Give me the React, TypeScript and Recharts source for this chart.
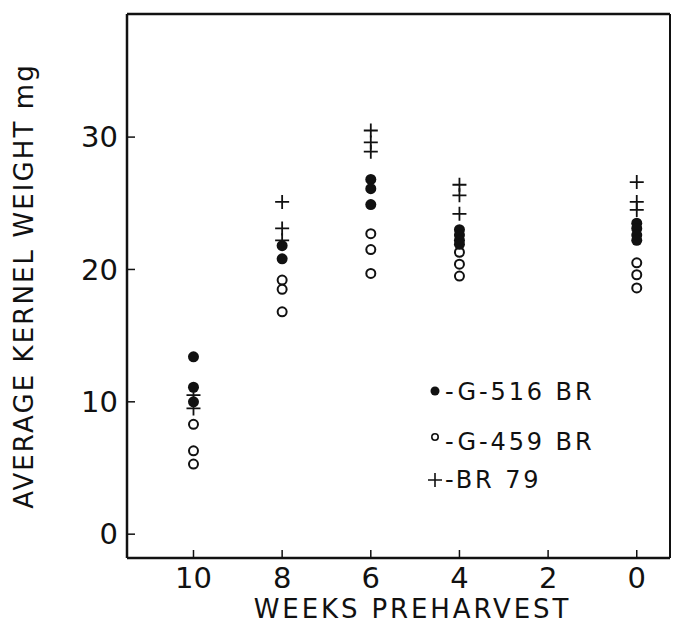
import { ScatterChart, Scatter, XAxis, YAxis, ReferenceLine } from 'recharts';

// weeks preharvest at which samples were taken
const WEEKS = [10, 8, 6, 4, 0];

// average kernel weight (mg), one list per week
const G516_BR = [
  [13.4, 11.1, 10.0],
  [21.8, 20.8],
  [26.8, 26.1, 24.9],
  [23.0, 22.6, 22.2, 21.9],
  [23.5, 23.1, 22.6, 22.2],
];
const G459_BR = [
  [8.3, 6.3, 5.3],
  [19.2, 18.5, 16.8],
  [22.7, 21.5, 19.7],
  [21.3, 20.4, 19.5],
  [20.5, 19.6, 18.6],
];
const BR79 = [
  [10.5, 9.5],
  [25.1, 23.1, 22.2],
  [30.5, 29.6, 28.9],
  [26.4, 25.6, 24.2],
  [26.6, 25.1, 24.5],
];

const X_TICKS = [10, 8, 6, 4, 2, 0];
const Y_TICKS = [0, 10, 20, 30];
const X_DOMAIN = [-0.75, 11.5];
const Y_DOMAIN = [-1.8, 39.3];

const FONT = '"DejaVu Sans", sans-serif';
const INK = '#111';

const toPoints = (series: number[][]) =>
  series.flatMap((vals, i) => vals.map((v) => ({ w: WEEKS[i], v })));

const FilledDot = (p: any) => <circle cx={p.cx} cy={p.cy} r={5.5} fill={INK} />;
const OpenDot = (p: any) => (
  <circle cx={p.cx} cy={p.cy} r={4.5} fill="#fff" stroke={INK} strokeWidth={2} />
);
const Plus = (p: any) => (
  <path
    d={`M${p.cx - 7},${p.cy}H${p.cx + 7}M${p.cx},${p.cy - 7}V${p.cy + 7}`}
    stroke={INK}
    strokeWidth={1.8}
    fill="none"
  />
);

// rows of the key: label and the vertical centre of each row
const LEGEND_ROWS = [
  { key: 'g516', label: '-G-516 BR', y: 392 },
  { key: 'g459', label: '-G-459 BR', y: 442 },
  { key: 'br79', label: '-BR 79', y: 480 },
];

function LegendMarker({ kind }: { kind: string }) {
  return (
    <svg width={14} height={14} style={{ overflow: 'visible', flexShrink: 0 }}>
      {kind === 'g516' && <circle cx={7} cy={6} r={4.5} fill={INK} />}
      {kind === 'g459' && (
        <circle cx={7} cy={2} r={3.2} fill="#fff" stroke={INK} strokeWidth={1.6} />
      )}
      {kind === 'br79' && (
        <path d="M0,7H14M7,0V14" stroke={INK} strokeWidth={1.6} fill="none" />
      )}
    </svg>
  );
}

// key sits inside the plot area, as in the figure
function KeyBox() {
  return (
    <>
      {LEGEND_ROWS.map((row) => (
        <div
          key={row.key}
          style={{
            position: 'absolute',
            left: 428,
            top: row.y - 15,
            height: 30,
            display: 'flex',
            alignItems: 'center',
            gap: 3,
            fontFamily: FONT,
            fontSize: 24,
            color: INK,
            whiteSpace: 'nowrap',
          }}
        >
          <LegendMarker kind={row.key} />
          <span style={{ letterSpacing: 2.9 }}>{row.label}</span>
        </div>
      ))}
    </>
  );
}

export default function App() {
  const tickStyle = { fontFamily: FONT, fontSize: 29, fill: INK };
  return (
    <div
      style={{
        position: 'absolute',
        left: 0,
        top: 0,
        width: 675,
        height: 624,
        background: '#fff',
      }}
    >
      <ScatterChart
        width={675}
        height={624}
        margin={{ top: 14, right: 5, bottom: 0, left: 0 }}
      >
        <XAxis
          type="number"
          dataKey="w"
          domain={X_DOMAIN}
          ticks={X_TICKS}
          reversed
          allowDataOverflow
          height={66}
          tickSize={-8}
          tickMargin={17}
          tick={tickStyle}
          axisLine={{ stroke: INK, strokeWidth: 2.5 }}
          tickLine={{ stroke: INK, strokeWidth: 1.5 }}
          label={{
            value: 'WEEKS  PREHARVEST',
            position: 'insideBottom',
            offset: 6,
            dx: 14,
            style: { fontFamily: FONT, fontSize: 26, fill: INK, letterSpacing: 2.9 },
          }}
        />
        <YAxis
          type="number"
          dataKey="v"
          domain={Y_DOMAIN}
          ticks={Y_TICKS}
          allowDataOverflow
          width={127}
          tickSize={-8}
          tickMargin={17}
          tick={tickStyle}
          axisLine={{ stroke: INK, strokeWidth: 2.5 }}
          tickLine={{ stroke: INK, strokeWidth: 1.5 }}
          label={{
            value: 'AVERAGE  KERNEL  WEIGHT  mg',
            angle: -90,
            position: 'insideLeft',
            offset: 24,
            style: {
              fontFamily: FONT,
              fontSize: 26,
              fill: INK,
              letterSpacing: 2.1,
              textAnchor: 'middle',
            },
          }}
        />
        <ReferenceLine y={Y_DOMAIN[1]} stroke={INK} strokeWidth={2.5} />
        <ReferenceLine x={X_DOMAIN[0]} stroke={INK} strokeWidth={2} />
        <Scatter
          name="G-459 BR"
          data={toPoints(G459_BR)}
          shape={OpenDot}
          isAnimationActive={false}
        />
        <Scatter
          name="G-516 BR"
          data={toPoints(G516_BR)}
          shape={FilledDot}
          isAnimationActive={false}
        />
        <Scatter
          name="BR 79"
          data={toPoints(BR79)}
          shape={Plus}
          isAnimationActive={false}
        />
      </ScatterChart>
      <KeyBox />
    </div>
  );
}
